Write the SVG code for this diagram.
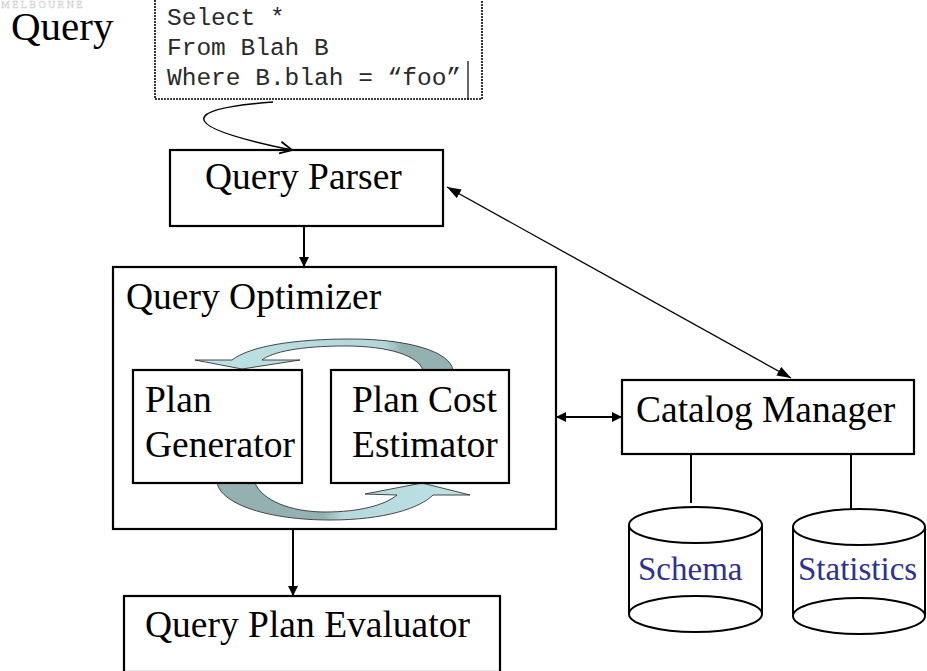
<svg xmlns="http://www.w3.org/2000/svg" width="927" height="671" viewBox="0 0 927 671">
<style>
.box{fill:#fff;stroke:#000;stroke-width:2.2}
.lbl{font-family:"Liberation Serif","Times New Roman",serif;font-size:37.5px;fill:#000}
.code{font-family:"Liberation Mono","Courier New",monospace;font-size:24.5px;fill:#2a2a2a}
.db{font-family:"Liberation Serif","Times New Roman",serif;font-size:33px;fill:#2e3192}
.conn{stroke:#000;fill:none}
.cyl{fill:#fff;stroke:#000;stroke-width:2}
.blk{stroke:#333;stroke-width:0.9}
</style>
<defs>
<marker id="ah" viewBox="0 0 10 10" refX="10" refY="5" markerWidth="10" markerHeight="10" markerUnits="userSpaceOnUse" orient="auto-start-reverse">
<path d="M0,0 L10,5 L0,10 Z" fill="#000"/>
</marker>
<marker id="ahl" viewBox="0 0 14 10" refX="14" refY="5" markerWidth="14" markerHeight="10" markerUnits="userSpaceOnUse" orient="auto-start-reverse">
<path d="M0,0 L14,5 L0,10 Z" fill="#000"/>
</marker>
<marker id="open" viewBox="0 0 14 14" refX="13" refY="7" markerWidth="14" markerHeight="14" markerUnits="userSpaceOnUse" orient="auto">
<path d="M1,1 L13,7 L1,13" fill="none" stroke="#000" stroke-width="1.8"/>
</marker>
<linearGradient id="gTop" gradientUnits="userSpaceOnUse" x1="195" y1="0" x2="453" y2="0">
<stop offset="0" stop-color="#bde2e5"/>
<stop offset="0.74" stop-color="#b3d6d8"/>
<stop offset="0.8" stop-color="#94b1b1"/>
<stop offset="1" stop-color="#94b1b1"/>
</linearGradient>
<linearGradient id="gBot" gradientUnits="userSpaceOnUse" x1="217" y1="0" x2="470" y2="0">
<stop offset="0" stop-color="#94b1b1"/>
<stop offset="0.42" stop-color="#94b1b1"/>
<stop offset="0.5" stop-color="#b5d9dc"/>
<stop offset="1" stop-color="#bde2e5"/>
</linearGradient>
</defs>

<text x="1" y="8" font-family="Liberation Serif, serif" font-size="10" fill="#fff" stroke="#cfcfcf" stroke-width="0.5" letter-spacing="2.4">MELBOURNE</text>

<g id="query-label">
<text class="lbl" x="11" y="40" style="font-size:41px">Query</text>
</g>

<g id="sql">
<rect x="155" y="-5" width="327" height="104" fill="#fff" stroke="#000" stroke-width="1.6" stroke-dasharray="2 1"/>
<text class="code" x="167" y="25">Select *</text>
<text class="code" x="167" y="55">From Blah B</text>
<text class="code" x="167" y="85">Where B.blah = “foo”</text>
<line x1="468" y1="61" x2="468" y2="100" stroke="#000" stroke-width="1.2"/>
</g>

<g id="query-parser">
<rect class="box" x="170" y="150" width="273" height="76"/>
<text class="lbl" x="205" y="189">Query Parser</text>
</g>

<g id="query-optimizer">
<rect class="box" x="113" y="267" width="443" height="262"/>
<text class="lbl" x="126" y="309">Query Optimizer</text>
</g>

<g id="loop-arrows">
<path class="blk" fill="url(#gTop)" d="M195,360 L232,360 C250,346 295,339 350,339 C410,339 450,352 453,370 L423,370 C418,356 390,346 345,346 C300,346 272,352 262,360 L300,360 L242,369 Z"/>
<path class="blk" fill="url(#gBot)" d="M217,483 C222,505 270,520 330,520 C385,520 420,508 433,495 L470,495 L422,483 L365,494 L397,495 C385,505 360,512 325,512 C290,512 262,500 255,483 Z"/>
</g>

<g id="plan-generator">
<rect class="box" x="133" y="370" width="169" height="113"/>
<text class="lbl" x="145" y="412">Plan</text>
<text class="lbl" x="145" y="457">Generator</text>
</g>

<g id="plan-cost-estimator">
<rect class="box" x="331" y="370" width="178" height="113"/>
<text class="lbl" x="352" y="412">Plan Cost</text>
<text class="lbl" x="352" y="457">Estimator</text>
</g>

<g id="query-plan-evaluator">
<rect class="box" x="124" y="596" width="376" height="76"/>
<text class="lbl" x="145" y="637">Query Plan Evaluator</text>
</g>

<g id="catalog-manager">
<rect class="box" x="622" y="380" width="292" height="74"/>
<text class="lbl" x="636" y="422">Catalog Manager</text>
</g>

<g id="schema">
<line class="cyl" x1="629" y1="525" x2="629" y2="614"/>
<line class="cyl" x1="762" y1="525" x2="762" y2="614"/>
<ellipse class="cyl" cx="695.5" cy="614" rx="66.5" ry="18"/>
<ellipse class="cyl" cx="695.5" cy="525" rx="66.5" ry="18"/>
<text class="db" x="638" y="580">Schema</text>
</g>

<g id="statistics">
<line class="cyl" x1="793" y1="527" x2="793" y2="616"/>
<line class="cyl" x1="925" y1="527" x2="925" y2="616"/>
<ellipse class="cyl" cx="859" cy="616" rx="66" ry="18"/>
<ellipse class="cyl" cx="859" cy="527" rx="66" ry="18"/>
<text class="db" x="798" y="580">Statistics</text>
</g>

<g id="connectors">
<path class="conn" stroke-width="1.5" d="M273,102 C190,108 165,124 292,150" marker-end="url(#open)"/>
<line class="conn" stroke-width="2" x1="304" y1="226" x2="304" y2="267" marker-end="url(#ah)"/>
<line class="conn" stroke-width="2" x1="293" y1="529" x2="293" y2="596" marker-end="url(#ah)"/>
<line class="conn" stroke-width="2" x1="556" y1="417" x2="622" y2="417" marker-start="url(#ah)" marker-end="url(#ah)"/>
<line class="conn" stroke-width="1.3" x1="447" y1="187" x2="791" y2="378" marker-start="url(#ahl)" marker-end="url(#ahl)"/>
<line class="conn" stroke-width="2" x1="691" y1="454" x2="691" y2="503"/>
<line class="conn" stroke-width="2" x1="851" y1="454" x2="851" y2="509"/>
</g>
</svg>
